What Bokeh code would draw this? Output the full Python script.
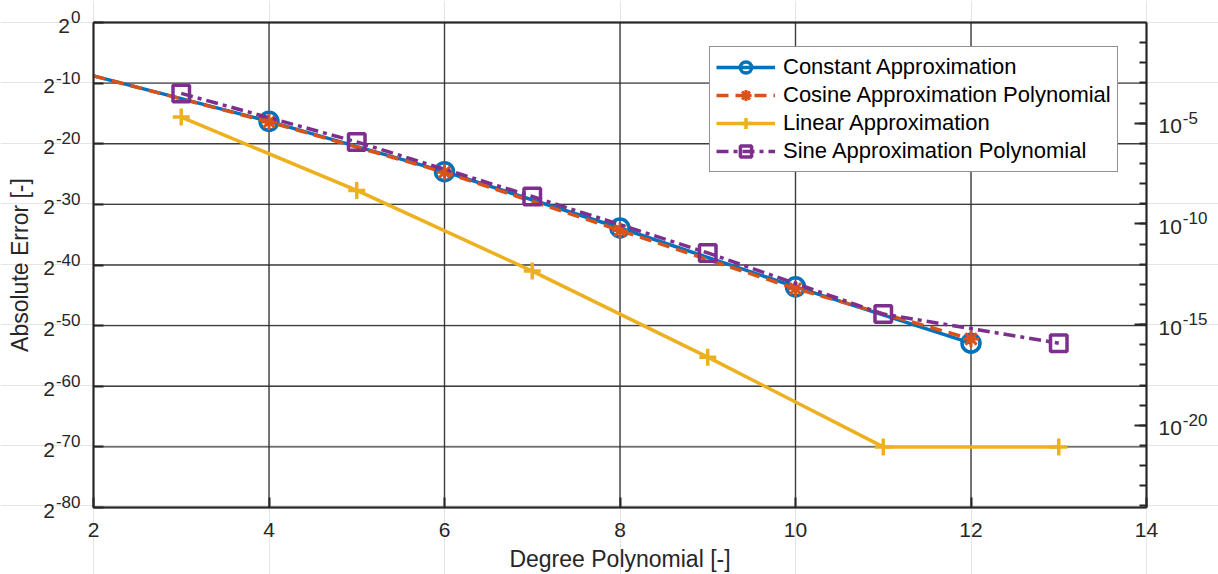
import math
from bokeh.plotting import figure
from bokeh.models import (Range1d, FixedTicker, CustomJSTickFormatter, LogAxis,
                          LinearAxis, Legend, LegendItem)
from bokeh.core.properties import value
from bokeh.embed import file_html
from bokeh.resources import INLINE

# Polynomial degree vs. log2 of the absolute approximation error
const_deg = [2, 4, 6, 8, 10, 12]
const_log2err = [-8.8, -16.3, -24.6, -33.9, -43.6, -52.9]

cos_deg = [2, 4, 6, 8, 10, 12]
cos_log2err = [-8.8, -16.4, -24.7, -34.3, -43.9, -52.2]

lin_deg = [3, 5, 7, 9, 11, 13]
lin_log2err = [-15.6, -27.7, -41.0, -55.2, -70.0, -70.0]

sin_deg = [3, 5, 7, 9, 11, 13]
sin_log2err = [-11.7, -19.7, -28.7, -38.0, -48.1, -52.9]

series_names = ["Constant Approximation", "Cosine Approximation Polynomial",
                "Linear Approximation", "Sine Approximation Polynomial"]

# axis ticks; power tick labels are written as a base plus a raised exponent
x_ticks = [2, 4, 6, 8, 10, 12, 14]
left_tick_exps = [0, -10, -20, -30, -40, -50, -60, -70, -80]
left_tick_base = "2"
left_tick_exp_labels = ["0", "-10", "-20", "-30", "-40", "-50", "-60", "-70", "-80"]
right_tick_exps = [-5, -10, -15, -20]
right_tick_base = "10"
right_tick_exp_labels = ["-5", "-10", "-15", "-20"]
right_minor_exps = list(range(-1, -25, -1))
x_title = "Degree Polynomial [-]"
y_title = "Absolute Error [-]"

FONT = "Liberation Sans"
INK = "#262626"
BLUE, ORANGE, YELLOW, PURPLE = "#0072BD", "#D95319", "#EDB120", "#7E2F8E"
TICK_PX = 21
EXP_PX = 17
LABEL_PX = 23

# page geometry: the axes box sits inside a full-page frame
W, H = 1218, 574
BOX_L, BOX_R, BOX_T, BOX_B = 93, 1146, 22, 507
X_LO, X_HI = 2, 14
Y_LO, Y_HI = -80, 0                      # log2 limits of the error axis
XPX = (BOX_R - BOX_L) / (X_HI - X_LO)    # pixels per degree
YPX = (BOX_B - BOX_T) / (Y_HI - Y_LO)    # pixels per power of two

# Liberation Sans advance widths (em) for the characters of the tick labels
ADV = {c: 0.556 for c in "0123456789"}
ADV["-"] = 0.333


def text_w(s, px):
    return sum(ADV[c] for c in s) * px


def to_err(exps):
    return [2.0 ** e for e in exps]


def px_x(dx):
    return dx / XPX


def px_y(dy):
    return dy / YPX


p = figure(width=W, height=H, output_backend="svg", toolbar_location=None,
           y_axis_type="log", x_axis_location=None, y_axis_location=None,
           x_range=Range1d(X_LO - px_x(BOX_L), X_HI + px_x(W - BOX_R)),
           y_range=Range1d(2.0 ** (Y_LO - px_y(H - BOX_B)), 2.0 ** (Y_HI + px_y(BOX_T))),
           min_border=0)
p.background_fill_color = "white"
p.border_fill_color = "white"
p.outline_line_color = None

y_bounds = (2.0 ** Y_LO, 2.0 ** Y_HI)
blank = CustomJSTickFormatter(code="return '';")

# grid lines at the major ticks
p.segment(x0=x_ticks, y0=[y_bounds[0]] * len(x_ticks), x1=x_ticks,
          y1=[y_bounds[1]] * len(x_ticks), line_color="#2a2a2a", line_width=1.4,
          line_alpha=0.9)
p.segment(x0=[X_LO] * len(left_tick_exps), y0=to_err(left_tick_exps),
          x1=[X_HI] * len(left_tick_exps), y1=to_err(left_tick_exps),
          line_color="#2a2a2a", line_width=1.4, line_alpha=0.9)

# axes pinned to the edges of the box
xa = LinearAxis(ticker=FixedTicker(ticks=x_ticks, minor_ticks=[]),
                fixed_location=y_bounds[0], bounds=(X_LO, X_HI))
ya = LogAxis(ticker=FixedTicker(ticks=to_err(left_tick_exps), minor_ticks=[]),
             formatter=blank, fixed_location=X_LO, bounds=y_bounds)
ra = LogAxis(ticker=FixedTicker(ticks=[10.0 ** e for e in right_tick_exps],
                                minor_ticks=[10.0 ** e for e in right_minor_exps]),
             formatter=blank, fixed_location=X_HI, bounds=y_bounds)
ta = LinearAxis(ticker=FixedTicker(ticks=[], minor_ticks=[]), formatter=blank,
                fixed_location=y_bounds[1], bounds=(X_LO, X_HI))
for ax in (xa, ya, ra, ta):
    ax.axis_line_color = INK
    ax.axis_line_width = 2
    ax.major_tick_line_color = INK
    ax.major_tick_line_width = 2
    ax.major_tick_in = 10
    ax.major_tick_out = 0
    ax.minor_tick_line_color = INK
    ax.minor_tick_line_width = 2
    ax.minor_tick_in = 0
    ax.minor_tick_out = 0
    ax.major_label_text_font = FONT
    ax.major_label_text_font_size = f"{TICK_PX}px"
    ax.major_label_text_color = INK
    ax.major_label_standoff = 0
ra.major_tick_in = 12
ra.minor_tick_in = 7
ta.major_tick_in = 0
xa.major_label_standoff = 15
p.add_layout(xa, "below")
p.add_layout(ya, "left")
p.add_layout(ra, "right")
p.add_layout(ta, "above")

# power-of-two labels on the left, powers of ten on the right
BASE_DROP = px_y(3)      # base sits slightly below the tick
EXP_RISE = px_y(5.5)     # exponent is raised above it
left_end = X_LO - px_x(13)
p.text(x=[left_end] * len(left_tick_exps), y=to_err([e + EXP_RISE for e in left_tick_exps]),
       text=left_tick_exp_labels, text_align="right", text_baseline="middle",
       text_font=value(FONT), text_font_size=value(f"{EXP_PX}px"), text_color=INK)
p.text(x=[left_end - px_x(text_w(s, EXP_PX) + 1) for s in left_tick_exp_labels],
       y=to_err([e - BASE_DROP for e in left_tick_exps]),
       text=[left_tick_base] * len(left_tick_exps), text_align="right",
       text_baseline="middle", text_font=value(FONT),
       text_font_size=value(f"{TICK_PX}px"), text_color=INK)

right_l2 = [e * math.log2(10) for e in right_tick_exps]
right_start = X_HI + px_x(12)
p.text(x=[right_start] * len(right_l2), y=to_err([y - BASE_DROP for y in right_l2]),
       text=[right_tick_base] * len(right_l2), text_align="left", text_baseline="middle",
       text_font=value(FONT), text_font_size=value(f"{TICK_PX}px"), text_color=INK)
p.text(x=[right_start + px_x(text_w(right_tick_base, TICK_PX) + 1)] * len(right_l2),
       y=to_err([y + EXP_RISE for y in right_l2]), text=right_tick_exp_labels,
       text_align="left", text_baseline="middle", text_font=value(FONT),
       text_font_size=value(f"{EXP_PX}px"), text_color=INK)

# axis titles
p.text(x=[(X_LO + X_HI) / 2], y=to_err([Y_LO - px_y(51)]), text=[x_title],
       text_align="center", text_baseline="middle", text_font=value(FONT),
       text_font_size=value(f"{LABEL_PX}px"), text_color=INK)
p.text(x=[X_LO - px_x(BOX_L - 19)], y=to_err([(Y_LO + Y_HI) / 2]), text=[y_title],
       angle=math.pi / 2, text_align="center", text_baseline="middle",
       text_font=value(FONT), text_font_size=value(f"{LABEL_PX}px"), text_color=INK)

LW = 3.5
# Constant approximation: the degree-2 point lies on the box edge, markers from degree 4 on
c_line = p.line(const_deg, to_err(const_log2err), line_color=BLUE, line_width=LW)
c_mark = p.scatter(const_deg[1:], to_err(const_log2err[1:]), marker="circle", size=18,
                   line_color=BLUE, line_width=LW, fill_color=None)

k_line = p.line(cos_deg, to_err(cos_log2err), line_color=ORANGE, line_width=LW,
                line_dash="12 7")
k_mark = p.scatter(cos_deg[1:], to_err(cos_log2err[1:]), marker="asterisk", size=16,
                   line_color=ORANGE, line_width=3)

l_line = p.line(lin_deg, to_err(lin_log2err), line_color=YELLOW, line_width=LW)
l_mark = p.scatter(lin_deg, to_err(lin_log2err), marker="cross", size=17,
                   line_color=YELLOW, line_width=LW)

s_line = p.line(sin_deg, to_err(sin_log2err), line_color=PURPLE, line_width=LW,
                line_dash="12 5 4 5")
s_mark = p.scatter(sin_deg, to_err(sin_log2err), marker="square", size=16.5,
                   line_color=PURPLE, line_width=LW, fill_color=None)

legend = Legend(items=[
    LegendItem(label=series_names[0], renderers=[c_line, c_mark]),
    LegendItem(label=series_names[1], renderers=[k_line, k_mark]),
    LegendItem(label=series_names[2], renderers=[l_line, l_mark]),
    LegendItem(label=series_names[3], renderers=[s_line, s_mark]),
], location=(709, H - 172))
legend.label_text_font = FONT
legend.label_text_font_size = "22px"
legend.label_text_color = "black"
legend.glyph_width = 59
legend.glyph_height = 28
legend.label_height = 28
legend.label_standoff = 8
legend.spacing = 0
legend.padding = 6
legend.margin = 0
legend.border_line_color = INK
legend.border_line_width = 1.2
legend.background_fill_color = "white"
legend.background_fill_alpha = 1
p.add_layout(legend, "center")

open("out.html", "w").write(file_html(p, INLINE))
